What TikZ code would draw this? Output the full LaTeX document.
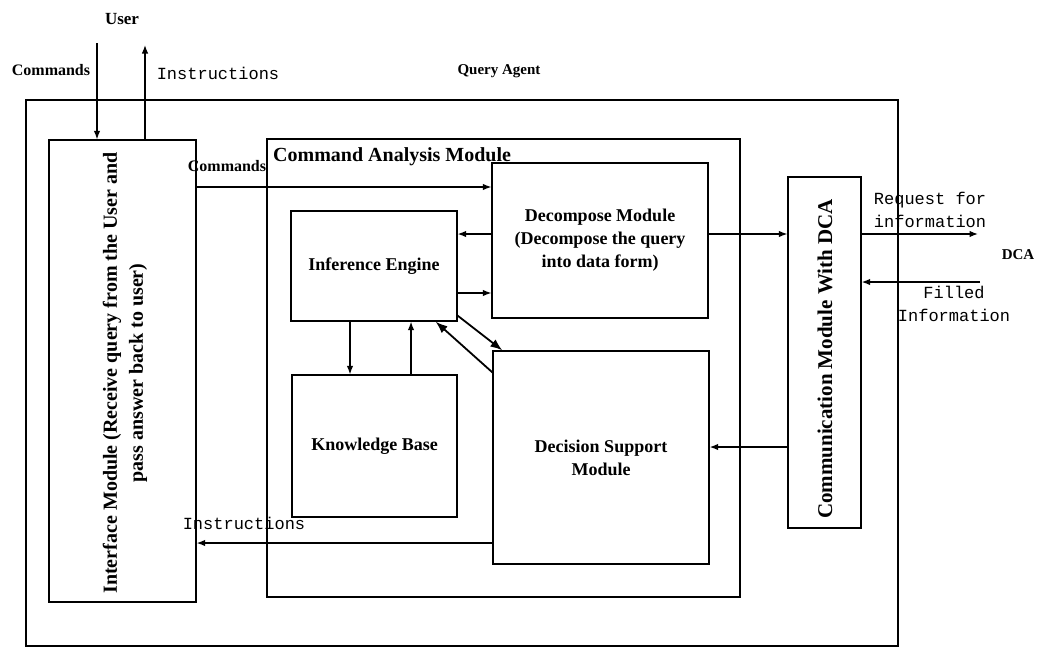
\documentclass[tikz,border=0pt]{standalone}
\usepackage{fontspec}
\setmainfont{Liberation Serif}
\setmonofont{Liberation Mono}
\usetikzlibrary{arrows.meta,calc}
\tikzset{
  box/.style={draw, line width=1.3pt, inner sep=0pt, rectangle},
  arr/.style={line width=1.3pt, -{Latex[length=8.5pt,width=6.5pt]}},
  bigarr/.style={line width=1.8pt, -{Latex[length=12pt,width=9pt]}},
  modtext/.style={font=\fontsize{18}{23}\selectfont\bfseries, align=center},
  mono/.style={font=\fontsize{17}{23}\selectfont\ttfamily, inner sep=0pt},
  serlab/.style={font=\fontsize{16}{20}\selectfont\bfseries, inner sep=0pt}
}
\begin{document}
\begin{tikzpicture}[x=1pt,y=-1pt]
\useasboundingbox (0,0) rectangle (1048,648);
% boxes
\node[box, minimum width=872pt, minimum height=546pt] (qa) at (462,373) {};
\node[box, minimum width=147pt, minimum height=462pt] (iface) at (122.5,371) {};
\node[box, minimum width=473pt, minimum height=458pt] (cam) at (503.5,368) {};
\node[box, minimum width=216pt, minimum height=155pt] (dm) at (600,240.5) {};
\node[box, minimum width=166pt, minimum height=110pt] (ie) at (374,266) {};
\node[box, minimum width=165pt, minimum height=142pt] (kb) at (374.5,446) {};
\node[box, minimum width=216pt, minimum height=213pt] (dsm) at (601,457.5) {};
\node[box, minimum width=73pt, minimum height=351pt] (comm) at (824.5,352.5) {};
% box texts
\node[modtext, rotate=90, font=\fontsize{20}{26}\selectfont\bfseries] (ifacetxt) at (125,373) {Interface Module (Receive query from the User and\\pass answer back to user)};
\node[modtext] (dmtxt) at (dm.center) {Decompose Module\\(Decompose the query\\into data form)};
\node[modtext] (ietxt) at (ie.center) {Inference Engine};
\node[modtext] (kbtxt) at (kb.center) {Knowledge Base};
\node[modtext] (dsmtxt) at (dsm.center) {Decision Support\\Module};
\node[modtext, rotate=90, font=\fontsize{21}{26}\selectfont\bfseries] (commtxt) at (825,359) {Communication Module With DCA};
% free labels
\node[font=\fontsize{17}{20}\selectfont\bfseries] (user) at (122,19) {User};
\node[serlab] (cmdlab1) at (51,70) {Commands};
\node[mono] (inslab1) at (218,73) {Instructions};
\node[font=\fontsize{15}{18}\selectfont\bfseries] (qalab) at (499,71) {Query Agent};
\node[serlab] (cmdlab2) at (227,166) {Commands};
\node[font=\fontsize{20}{22}\selectfont\bfseries, anchor=west, inner sep=0pt] (camlab) at (273,157) {Command Analysis Module};
\node[mono] (inslab2) at (244,523) {Instructions};
\node[mono, align=left] (reqlab) at (930,210) {Request for\\information};
\node[mono, align=center] (fillab) at (954,304) {Filled\\Information};
\node[font=\fontsize{15}{18}\selectfont\bfseries] (dca) at (1018,255) {DCA};
% coordinates
\coordinate (ucmd) at (97,43);
\coordinate (uins) at (145,45);
\coordinate (ycmd) at (0,187);
\coordinate (ya) at (0,234);
\coordinate (yb) at (0,293);
\coordinate (xa) at (350,0);
\coordinate (xb) at (411,0);
\coordinate (yc) at (0,447);
\coordinate (yins) at (0,543);
\coordinate (reqend) at (978,234);
\coordinate (filstart) at (980,282);
% connectors
\draw[arr] (ucmd) -- (ucmd |- iface.north);
\draw[arr] (uins |- iface.north) -- (uins);
\draw[arr] (iface.east |- ycmd) -- (dm.west |- ycmd);
\draw[arr] (dm.west |- ya) -- (ie.east |- ya);
\draw[arr] (ie.east |- yb) -- (dm.west |- yb);
\draw[arr] (ie.south -| xa) -- (kb.north -| xa);
\draw[arr] (kb.north -| xb) -- (ie.south -| xb);
\draw[bigarr] ([yshift=6pt]ie.south east) -- ([xshift=10pt]dsm.north west);
\draw[bigarr] ([yshift=-22pt]dsm.north west) -- ([xshift=-22pt]ie.south east);
\draw[arr] (dm.east |- ya) -- (comm.west |- ya);
\draw[arr] (comm.west |- yc) -- (dsm.east |- yc);
\draw[arr] (comm.east |- ya) -- (reqend);
\draw[arr] (filstart) -- (comm.east |- filstart);
\draw[arr] (dsm.west |- yins) -- (iface.east |- yins);
\end{tikzpicture}
\end{document}
